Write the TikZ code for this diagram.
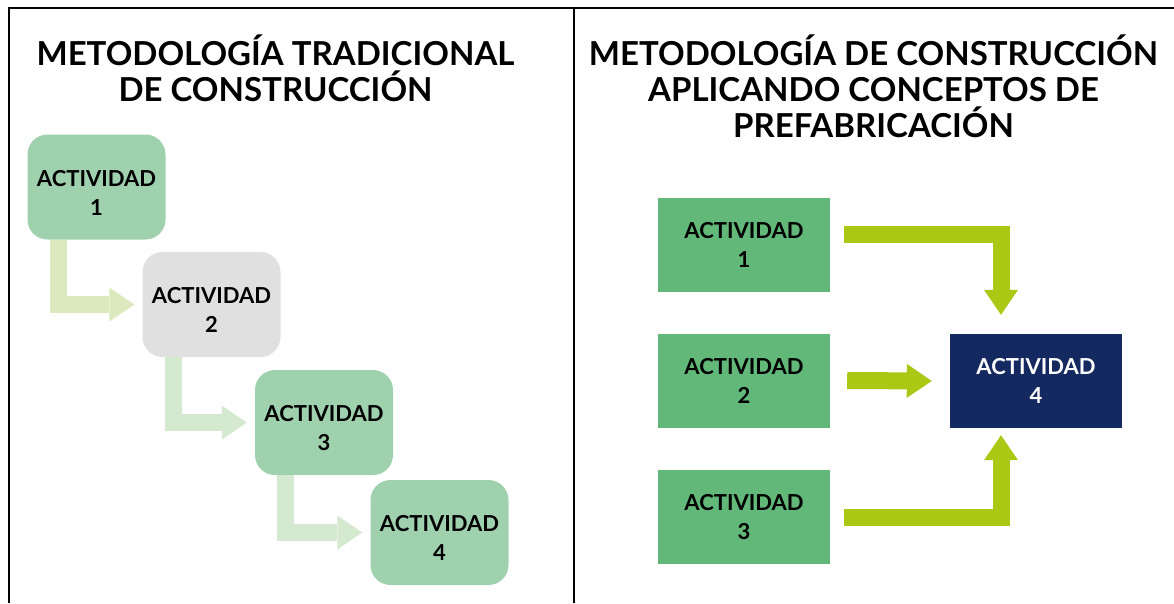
\documentclass[tikz,border=0pt]{standalone}
\usepackage{fontspec}
\setmainfont{Lato}
\usetikzlibrary{arrows.meta}
\definecolor{softgreen}{HTML}{9FD1AF}
\definecolor{softgray}{HTML}{E0E0E0}
\definecolor{paleolive}{HTML}{DCE8BD}
\definecolor{palegreen}{HTML}{D5E8D0}
\definecolor{prefgreen}{HTML}{62B878}
\definecolor{prefnavy}{HTML}{13295F}
\definecolor{prefline}{HTML}{ABC814}
\tikzset{
  stepbox/.style={rounded corners=20pt, minimum width=138pt, minimum height=105pt,
    inner sep=0pt, align=center, font=\fontsize{22}{29}\selectfont\bfseries},
  prefbox/.style={minimum width=172pt, minimum height=94pt,
    inner sep=0pt, align=center, font=\fontsize{22}{29}\selectfont\bfseries},
  bentarrow/.style={line width=17pt, line join=miter,
    -{Triangle[length=25pt,width=34pt,line width=0pt]}},
  titletext/.style={align=center, inner sep=0pt, font=\fontsize{33}{36}\selectfont\bfseries}
}
\begin{document}
\begin{tikzpicture}[x=1pt,y=-1pt]
\useasboundingbox (0,0) rectangle (1174,603);
\draw[line width=2.5pt] (9,603) -- (9,8) -- (1174,8);
\draw[line width=2.5pt] (574,8) -- (574,603);
\node[titletext] (lefttitle) at (275.5,68) {METODOLOGÍA TRADICIONAL\\DE CONSTRUCCIÓN};
\node[titletext] (righttitle) at (873.5,86) {METODOLOGÍA DE CONSTRUCCIÓN\\APLICANDO CONCEPTOS DE\\PREFABRICACIÓN};
\foreach \i/\x/\y/\c in {1/96.5/187/softgreen, 2/211.5/304.5/softgray, 3/324/422.5/softgreen, 4/439.5/532.5/softgreen}
  \node[stepbox, fill=\c] (t\i) at (\x,\y) {\rule{0pt}{27pt}ACTIVIDAD\\\i};
\foreach \i/\j/\c in {1/2/paleolive, 2/3/palegreen, 3/4/palegreen}
  \draw[bentarrow, color=\c] ([xshift=31pt]t\i.south west) |- ([xshift=-8pt]t\j.west);
\foreach \i/\y in {1/245, 2/380.5, 3/517}
  \node[prefbox, fill=prefgreen] (r\i) at (744,\y) {ACTIVIDAD\\\i};
\node[prefbox, fill=prefnavy, text=white] (r4) at (1036,381) {ACTIVIDAD\\4};
\draw[bentarrow, color=prefline] ([xshift=14pt,yshift=11pt]r1.east) -| ([xshift=-35pt,yshift=19pt]r4.north);
\draw[bentarrow, color=prefline] ([xshift=17pt]r2.east) -- ([xshift=-18pt]r4.west);
\draw[bentarrow, color=prefline] ([xshift=14pt]r3.east) -| ([xshift=-35pt,yshift=-7pt]r4.south);
\end{tikzpicture}
\end{document}
